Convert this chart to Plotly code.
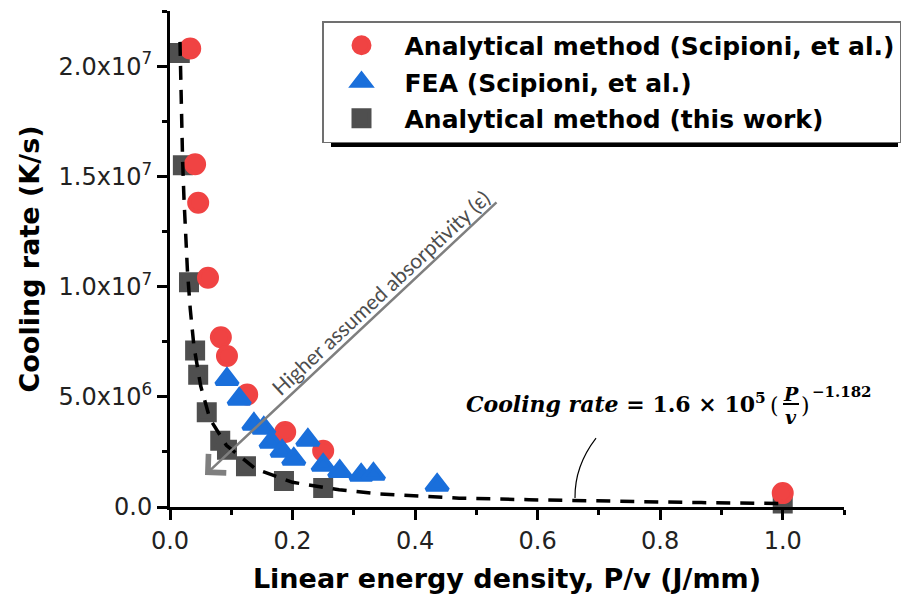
import plotly.graph_objects as go

# ---------------- data ----------------
circ_x = [0.033, 0.041, 0.046, 0.062, 0.083, 0.093, 0.126, 0.188, 0.250, 1.0]
circ_y = [20.8e6, 15.55e6, 13.8e6, 10.4e6, 7.7e6, 6.85e6, 5.1e6, 3.4e6, 2.55e6, 0.63e6]

tri_x = [0.093, 0.113, 0.137, 0.153, 0.165, 0.183, 0.202, 0.225, 0.250, 0.277, 0.312, 0.332, 0.436]
tri_y = [5.8e6, 4.9e6, 3.76e6, 3.58e6, 2.95e6, 2.54e6, 2.18e6, 3.04e6, 1.9e6, 1.62e6, 1.45e6, 1.5e6, 1.0e6]

sq_x = [0.016, 0.021, 0.031, 0.041, 0.046, 0.060, 0.082, 0.093, 0.124, 0.186, 0.250, 1.0]
sq_y = [20.6e6, 15.5e6, 10.2e6, 7.1e6, 6.0e6, 4.3e6, 3.0e6, 2.6e6, 1.85e6, 1.18e6, 0.86e6, 0.16e6]

fit_x = [0.0163, 0.0175, 0.019, 0.0206, 0.0228, 0.0252, 0.0285, 0.033, 0.039, 0.050, 0.065,
         0.092, 0.140, 0.200, 0.276, 0.339, 0.406, 0.472, 0.586, 0.720, 0.867, 1.0]
fit_y = [21.1e6, 19.1e6, 17.3e6, 15.7e6, 14.0e6, 12.4e6, 10.7e6, 9.0e6, 7.3e6, 5.5e6, 4.0e6,
         2.8e6, 1.72e6, 1.12e6, 0.78e6, 0.60e6, 0.48e6, 0.40e6, 0.33e6, 0.25e6, 0.20e6, 0.16e6]

y_tickvals = [0, 5e6, 1e7, 1.5e7, 2e7]
y_ticktext = ["0.0", "5.0x10<sup>6</sup>", "1.0x10<sup>7</sup>", "1.5x10<sup>7</sup>", "2.0x10<sup>7</sup>"]

names = ["Analytical method (Scipioni, et al.)", "FEA (Scipioni, et al.)", "Analytical method (this work)"]

RED = "#F04343"
BLUE = "#1A6FDB"
GRAY = "#4F4F4F"

# plot-area geometry in pixels (for non-data layout items)
L, R, T, B = 170, 844, 11, 507
def PX(px):
    return (px - L) / (R - L)
def PY(py):
    return (B - py) / (B - T)

fig = go.Figure()

fig.add_trace(go.Scatter(
    x=sq_x, y=sq_y, mode="markers", name=names[2], legendrank=3, legendgroup="c",
    marker=dict(symbol="square", size=16, color=GRAY, line=dict(color=GRAY, width=4)),
    cliponaxis=False))
fig.add_trace(go.Scatter(
    x=circ_x, y=circ_y, mode="markers", name=names[0], legendrank=1, legendgroup="a",
    marker=dict(symbol="circle", size=18, color=RED, line=dict(color=RED, width=4)),
    cliponaxis=False))
fig.add_trace(go.Scatter(
    x=tri_x, y=tri_y, mode="markers", name=names[1], legendrank=2, legendgroup="b",
    marker=dict(symbol="triangle-up", size=19, color=BLUE, line=dict(color=BLUE, width=4)),
    cliponaxis=False))
fig.add_trace(go.Scatter(
    x=fit_x, y=fit_y, mode="lines", showlegend=False,
    line=dict(color="black", width=3.5, dash="14px,10px"),
    cliponaxis=False))

tickfont = dict(family="DejaVu Sans", size=24, color="#222222")
titlefont = dict(family="DejaVu Sans", size=27, color="black", weight="bold")

fig.update_xaxes(
    range=[0, 1.1], tick0=0, dtick=0.2, tickformat=".1f",
    showline=True, linewidth=3, linecolor="black", showgrid=False, zeroline=False,
    ticks="outside", ticklen=10, tickwidth=3, tickcolor="black", tickfont=tickfont,
    minor=dict(tickmode="linear", tick0=0, dtick=0.1, ticks="outside", ticklen=5, tickwidth=3, tickcolor="black"),
    title=dict(text="Linear energy density, P/v (J/mm)", font=titlefont, standoff=16),
)
fig.update_yaxes(
    range=[0, 2.25e7], tickmode="array", tickvals=y_tickvals, ticktext=y_ticktext,
    showline=True, linewidth=3, linecolor="black", showgrid=False, zeroline=False,
    ticks="outside", ticklen=10, tickwidth=3, tickcolor="black", tickfont=tickfont,
    minor=dict(tickmode="linear", tick0=0, dtick=2.5e6, ticks="outside", ticklen=5, tickwidth=3, tickcolor="black"),
    title=dict(text="Cooling rate (K/s)", font=titlefont, standoff=12),
)

annotations = [
    # arrow
    dict(x=0.0571, y=1.451e6, ax=0.5353, ay=13.88e6, xref="x", yref="y", axref="x", ayref="y",
         text="", showarrow=True, arrowhead=4, arrowsize=2.0, arrowwidth=2.5, arrowcolor="#7F7F7F",
         standoff=0, startstandoff=0),
    dict(x=0.3427, y=9.75e6, xref="x", yref="y", text="Higher assumed absorptivity (\u03b5)",
         showarrow=False, textangle=-43, xanchor="center", yanchor="middle",
         font=dict(family="Lato", size=21, color="#4D4D4D")),
    # formula
    dict(x=PX(768), y=PY(403), xref="paper", yref="paper", xanchor="right", yanchor="middle",
         text="<i>Cooling rate</i> = 1.6 \u00d7 10<sup>5</sup>", showarrow=False,
         font=dict(family="DejaVu Serif", size=22, color="black", weight="bold")),
    dict(x=PX(774), y=PY(405), xref="paper", yref="paper", xanchor="center", yanchor="middle",
         text="(", showarrow=False, font=dict(family="DejaVu Serif", size=22, color="black")),
    dict(x=PX(791), y=PY(394), xref="paper", yref="paper", xanchor="center", yanchor="middle",
         text="<i>P</i>", showarrow=False, font=dict(family="DejaVu Serif", size=19, color="black", weight="bold")),
    dict(x=PX(791), y=PY(417), xref="paper", yref="paper", xanchor="center", yanchor="middle",
         text="<i>v</i>", showarrow=False, font=dict(family="DejaVu Serif", size=19, color="black", weight="bold")),
    dict(x=PX(805), y=PY(405), xref="paper", yref="paper", xanchor="center", yanchor="middle",
         text=")", showarrow=False, font=dict(family="DejaVu Serif", size=22, color="black")),
    dict(x=PX(810), y=PY(392), xref="paper", yref="paper", xanchor="left", yanchor="middle",
         text="\u22121.182", showarrow=False, font=dict(family="DejaVu Serif", size=15, color="black", weight="bold")),
]

shapes = [
    # legend shadow
    dict(type="rect", xref="paper", yref="paper", x0=PX(331), x1=PX(898), y0=PY(147), y1=PY(30),
         fillcolor="black", line=dict(width=0), layer="above"),
    # fraction bar
    dict(type="line", xref="paper", yref="paper", x0=PX(783), x1=PX(799), y0=PY(404), y1=PY(404),
         line=dict(color="black", width=2)),
    # pointer curve to the fit line
    dict(type="path", xref="x", yref="y", path="M0.6953,3129000 Q0.6601,1860000 0.661,408000",
         line=dict(color="black", width=1.2)),
]

fig.update_layout(
    width=907, height=601,
    margin=dict(l=L, r=907 - R, t=T, b=601 - B, autoexpand=False),
    plot_bgcolor="white", paper_bgcolor="white",
    showlegend=True,
    legend=dict(x=PX(322), y=PY(21), xanchor="left", yanchor="top", xref="paper", yref="paper",
                bgcolor="white", bordercolor="#707070", borderwidth=1.5,
                font=dict(family="DejaVu Sans", size=25, color="black", weight="bold"),
                tracegroupgap=1, itemsizing="trace", itemwidth=76, indentation=-5),
    annotations=annotations,
    shapes=shapes,
)

fig.write_html("out.html")
